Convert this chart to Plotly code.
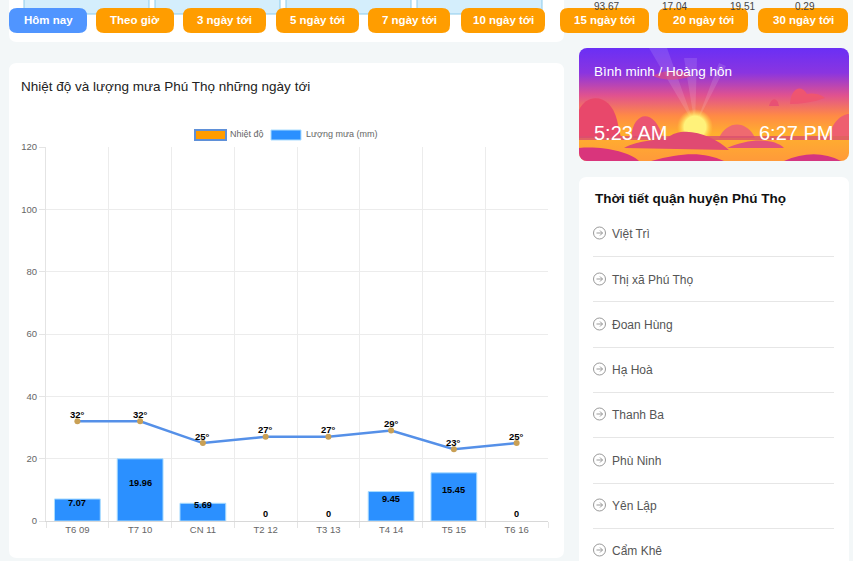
import base64

import plotly.graph_objects as go

days = ["T6 09", "T7 10", "CN 11", "T2 12", "T3 13", "T4 14", "T5 15", "T6 16"]
temps = [32, 32, 25, 27, 27, 29, 23, 25]
rain = [7.07, 19.96, 5.69, 0, 0, 9.45, 15.45, 0]
y_ticks = [0, 20, 40, 60, 80, 100, 120]

tabs = ["Hôm nay", "Theo giờ", "3 ngày tới", "5 ngày tới", "7 ngày tới",
        "10 ngày tới", "15 ngày tới", "20 ngày tới", "30 ngày tới"]
tab_left = [9, 96, 183, 276, 368, 461, 560, 658, 758]
tab_right = [87, 174, 266, 359, 450, 545, 649, 748, 848]

districts = ["Việt Trì", "Thị xã Phú Thọ", "Đoan Hùng", "Hạ Hoà", "Thanh Ba",
             "Phù Ninh", "Yên Lập", "Cẩm Khê"]
district_y = [234, 280, 325, 370, 415, 461, 506, 551]
divider_y = [256.5, 301.5, 347.5, 392.5, 437.5, 483.5, 528.5]

top_numbers = ["93.67", "17.04", "19.51", "0.29"]
top_number_x = [606, 674, 742, 805]
top_boxes = [(24, 149), (155, 280), (286, 411), (417, 542)]

FONT = "Liberation Sans"
L, R, T, B = 46, 548, 147, 521


def px(x):
    return (x - L) / (R - L)


def py(y):
    return (B - y) / (B - T)


def rounded(x0, y0, x1, y1, r, fill, line=None, width=0):
    a, b, c, d = px(x0), px(x1), py(y0), py(y1)
    rx = r / (R - L)
    ry = r / (B - T)
    path = (f"M {a + rx} {c} L {b - rx} {c} Q {b} {c} {b} {c - ry} "
            f"L {b} {d + ry} Q {b} {d} {b - rx} {d} L {a + rx} {d} "
            f"Q {a} {d} {a} {d + ry} L {a} {c - ry} Q {a} {c} {a + rx} {c} Z")
    return dict(type="path", path=path, xref="paper", yref="paper", layer="below",
                fillcolor=fill, line=dict(color=line or fill, width=width))


def rect(x0, y0, x1, y1, fill, line=None, width=0):
    return dict(type="rect", xref="paper", yref="paper", layer="below",
                x0=px(x0), x1=px(x1), y0=py(y0), y1=py(y1), fillcolor=fill,
                line=dict(color=line or fill, width=width))


def label(x, y, text, size=12, color="#444", anchor="left"):
    return dict(x=px(x), y=py(y), xref="paper", yref="paper", text=text, showarrow=False,
                xanchor=anchor, yanchor="middle", font=dict(family=FONT, size=size, color=color),
                borderpad=0, borderwidth=0)


# sunset picture behind the sunrise card
sunset_svg = """<svg xmlns="http://www.w3.org/2000/svg" width="270" height="113" viewBox="0 0 270 113">
<defs>
<linearGradient id="sky" x1="0" y1="0" x2="0" y2="1">
<stop offset="0" stop-color="#6a2ff5"/><stop offset="0.22" stop-color="#8a35e0"/>
<stop offset="0.42" stop-color="#e0528f"/><stop offset="0.6" stop-color="#ff8a45"/>
<stop offset="0.76" stop-color="#ffb02e"/><stop offset="1" stop-color="#ff9a3a"/>
</linearGradient>
<radialGradient id="sun"><stop offset="0.6" stop-color="#fff27a"/><stop offset="1" stop-color="#ffd83e" stop-opacity="0"/></radialGradient>
<clipPath id="c"><rect width="270" height="113" rx="8"/></clipPath>
</defs>
<g clip-path="url(#c)">
<rect width="270" height="113" fill="url(#sky)"/>
<path d="M116 78 L70 0 L88 0 Z M116 78 L105 10 L118 10 Z M116 78 L140 15 L147 18 Z" fill="#fff" opacity="0.12"/>
<circle cx="116" cy="79" r="18" fill="url(#sun)"/>
<path d="M0 90 L0 62 C8 44 32 46 38 72 L42 90 Z" fill="#e8486b"/>
<path d="M52 90 C54 62 76 60 84 90 Z" fill="#ea5472"/>
<path d="M140 90 C148 72 168 72 176 90 Z" fill="#ef6a70"/>
<path d="M250 88 C254 72 264 66 270 66 L270 88 Z" fill="#ee5f70"/>
<path d="M74 28 C85 21 105 21 112 28 C100 33 85 33 74 28 Z" fill="#e2507a" opacity="0.65"/>
<path d="M211 56 C212 40 222 36 228 46 C236 44 245 48 246 50 C235 54 222 56 211 56 Z" fill="#ee5570"/>
<path d="M190 58 C192 50 198 48 200 58 Z" fill="#e85074"/>
<path d="M0 88 L270 88 L270 92 L0 92 Z" fill="#d9506e" opacity="0.8"/>
<path d="M45 100 C60 92 80 92 88 90 C105 76 135 88 150 102 Z" fill="#e04a72"/>
<path d="M148 100 C170 90 195 90 205 100 Z" fill="#e2527a"/>
<path d="M0 113 L0 100 C25 98 50 104 60 113 Z" fill="#d9357c"/>
<path d="M72 113 C105 104 125 104 145 113 Z" fill="#d9357c"/>
<path d="M205 113 C225 104 245 104 262 113 Z" fill="#d43580"/>
</g></svg>"""
sunset_uri = "data:image/svg+xml;base64," + base64.b64encode(sunset_svg.encode("utf-8")).decode()

fig = go.Figure()

fig.add_trace(go.Bar(
    x=days, y=rain, name="Lượng mưa (mm)", width=0.73,
    marker=dict(color="#2b90ff",
                line=dict(color="#a9dcff", width=[1 if v > 0 else 0 for v in rain])),
))
fig.add_trace(go.Scatter(
    x=days, y=temps, name="Nhiệt độ", mode="lines+markers",
    line=dict(color="#5590e8", width=2.5),
    marker=dict(color="#c9a055", size=6),
))

shapes = [
    rounded(9, -20, 564, 42, 8, "#ffffff"),
    rounded(9, 63, 564, 558, 8, "#ffffff"),
    rounded(579, 177, 849, 590, 8, "#ffffff"),
]
for x0, x1 in top_boxes:
    shapes.append(rect(x0, -5, x1, 14, "#d4eefc", "#8ccbec", 1))
for left, right, tab in zip(tab_left, tab_right, tabs):
    shapes.append(rounded(left, 8, right, 33, 8, "#5095ff" if tab == "Hôm nay" else "#ff9d00"))

# chart.js style legend
shapes.append(rect(195, 130, 226, 140, "#ff9c00", "#5f90d8", 2))
shapes.append(rect(271, 130, 301, 140, "#2b90ff", "#a9dcff", 1))

for y in divider_y:
    shapes.append(dict(type="line", xref="paper", yref="paper", layer="below",
                       x0=px(593), x1=px(834), y0=py(y), y1=py(y),
                       line=dict(color="#e6e6e6", width=1)))
for y in district_y:
    cy = y - 1
    shapes.append(dict(type="circle", xref="paper", yref="paper", layer="below",
                       x0=px(593.5), x1=px(605.5), y0=py(cy - 6), y1=py(cy + 6),
                       fillcolor="rgba(0,0,0,0)", line=dict(color="#999", width=1)))
    # little arrow inside the circle
    arrow = (f"M {px(596.5)} {py(cy)} L {px(602.5)} {py(cy)} "
             f"M {px(600)} {py(cy - 2.5)} L {px(602.5)} {py(cy)} L {px(600)} {py(cy + 2.5)}")
    shapes.append(dict(type="path", path=arrow, xref="paper", yref="paper", layer="below",
                       line=dict(color="#999", width=1)))

annotations = [
    label(21, 86, "Nhiệt độ và lượng mưa Phú Thọ những ngày tới", 13.5, "#222"),
    label(230, 134, "Nhiệt độ", 9, "#666"),
    label(306, 134, "Lượng mưa (mm)", 9, "#666"),
    label(594, 71, "Bình minh / Hoàng hôn", 13.5, "#ffffff"),
    label(594, 133, "5:23 AM", 20, "#ffffff"),
    label(833, 133, "6:27 PM", 20, "#ffffff", "right"),
    label(595, 198, "<b>Thời tiết quận huyện Phú Thọ</b>", 13.5, "#111"),
]
for left, right, tab in zip(tab_left, tab_right, tabs):
    annotations.append(label((left + right) / 2, 20, f"<b>{tab}</b>", 11.5, "#ffffff", "center"))
for x, text in zip(top_number_x, top_numbers):
    annotations.append(label(x, 6, text, 10, "#444", "center"))
for name, y in zip(districts, district_y):
    annotations.append(label(612, y, name, 12, "#555"))

# value labels on the marks
for day, temp in zip(days, temps):
    annotations.append(dict(x=day, y=temp, text=f"<b>{temp}°</b>", showarrow=False, yshift=7,
                            font=dict(family=FONT, size=9.5, color="#000")))
for day, value in zip(days, rain):
    annotations.append(dict(x=day, y=value / 2, text=f"<b>{value:g}</b>", showarrow=False, yshift=7,
                            font=dict(family=FONT, size=9.2, color="#000")))

fig.update_layout(
    width=853, height=561, autosize=False,
    margin=dict(l=L, r=853 - R, t=T, b=561 - B, pad=0),
    paper_bgcolor="#f3f7f8", plot_bgcolor="#ffffff",
    showlegend=False, bargap=0.27,
    font=dict(family=FONT, size=9.5, color="#666"),
    shapes=shapes, annotations=annotations,
    images=[dict(source=sunset_uri, xref="paper", yref="paper", x=px(579), y=py(48),
                 sizex=270 / (R - L), sizey=113 / (B - T), sizing="stretch",
                 xanchor="left", yanchor="top", layer="below")],
)
fig.update_xaxes(
    type="category", categoryorder="array", categoryarray=days, tickson="boundaries",
    range=[-0.5, 7.5], showgrid=True, gridcolor="#ececec", gridwidth=1,
    ticks="outside", ticklen=6, tickcolor="#e4e4e4", showline=True, linecolor="#d8d8d8",
    tickfont=dict(size=9.5, color="#666"),
)
fig.update_yaxes(
    range=[0, 120], tickvals=y_ticks, showgrid=True, gridcolor="#ececec", gridwidth=1,
    ticks="outside", ticklen=6, tickcolor="#e4e4e4", showline=True, linecolor="#e4e4e4",
    zeroline=False, tickfont=dict(size=9.5, color="#666"),
)

fig.write_html("out.html", config=dict(displayModeBar=False),
               post_script="document.body.style.margin='0';document.body.style.overflow='hidden';")
